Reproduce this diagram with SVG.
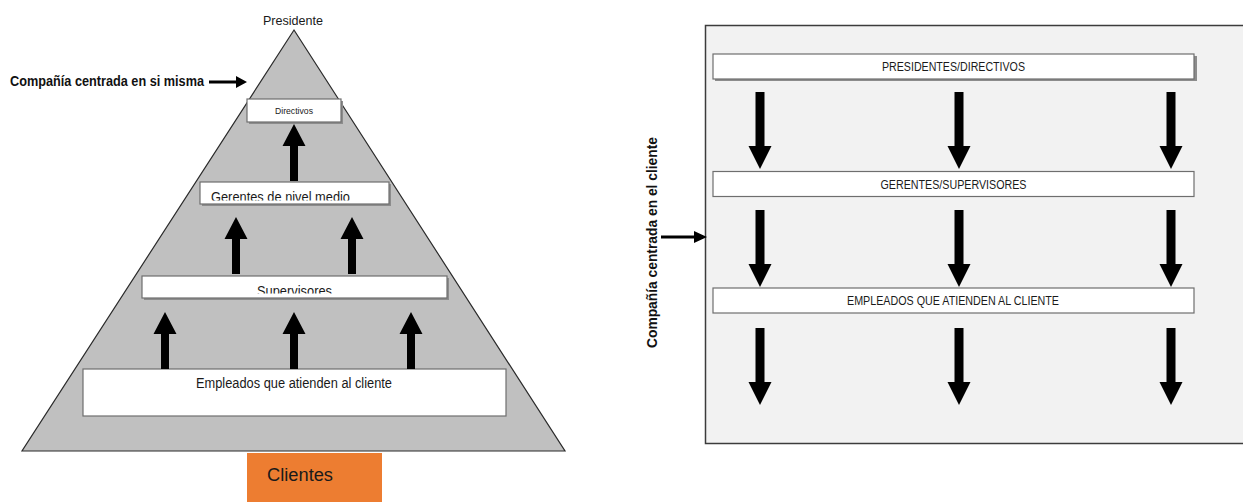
<svg xmlns="http://www.w3.org/2000/svg" xmlns:xlink="http://www.w3.org/1999/xlink" width="1243" height="502" viewBox="0 0 1243 502">
  <style>
    text { font-family: "Liberation Sans", Arial, sans-serif; fill: #1a1a1a; }
    .box { fill: #ffffff; stroke: #6e6e6e; stroke-width: 1.2; }
    .shadow { fill: #8c8c8c; }
    .bold { font-weight: bold; fill: #111; }
    .blk { fill: #000; }
  </style>
  <defs>
    <!-- block arrow pointing up, tip at origin -->
    <path id="arrowUp" d="M0,0 L11.5,22 L4,22 L4,57 L-4,57 L-4,22 L-11.5,22 Z"/>
    <!-- block arrow pointing down, tail at origin -->
    <path id="arrowDown" d="M-4.5,0 L4.5,0 L4.5,54 L11.5,54 L0,77 L-11.5,54 L-4.5,54 Z"/>
    <clipPath id="clipGerentes"><rect x="200" y="182" width="188" height="18.5"/></clipPath>
    <clipPath id="clipSupervisores"><rect x="142" y="276" width="305" height="17.5"/></clipPath>
  </defs>

  <!-- Left: self-centred company pyramid -->
  <g id="pyramid">
    <polygon points="294,30 565,451 22,451" fill="#c0c0c0" stroke="#2a2a2a" stroke-width="1.2"/>
    <text x="293" y="25" font-size="13" text-anchor="middle" textLength="60" lengthAdjust="spacingAndGlyphs">Presidente</text>
  </g>

  <g id="label-self">
    <text class="bold" x="10" y="86" font-size="14" textLength="194" lengthAdjust="spacingAndGlyphs">Compañía centrada en si misma</text>
  </g>

  <g id="node-directivos">
    <rect class="shadow" x="249" y="101" width="94" height="23"/>
    <rect class="box" x="247" y="99" width="94" height="23"/>
    <text x="294" y="114" font-size="9" text-anchor="middle" textLength="38" lengthAdjust="spacingAndGlyphs">Directivos</text>
  </g>

  <g id="node-gerentes">
    <rect class="shadow" x="202" y="184" width="189" height="22"/>
    <rect class="box" x="200" y="182" width="189" height="22"/>
    <text x="211" y="201.5" font-size="15" clip-path="url(#clipGerentes)" textLength="139" lengthAdjust="spacingAndGlyphs">Gerentes de nivel medio</text>
  </g>

  <g id="node-supervisores">
    <rect class="shadow" x="144" y="278" width="305" height="22"/>
    <rect class="box" x="142" y="276" width="305" height="22"/>
    <text x="257" y="295.5" font-size="15" clip-path="url(#clipSupervisores)" textLength="75" lengthAdjust="spacingAndGlyphs">Supervisores</text>
  </g>

  <g id="node-empleados">
    <rect class="box" x="83" y="369" width="423" height="47"/>
    <text x="196" y="388" font-size="14" textLength="196" lengthAdjust="spacingAndGlyphs">Empleados que atienden al cliente</text>
  </g>

  <g id="node-clientes">
    <rect x="247" y="453" width="135" height="49" fill="#ed7d31"/>
    <text x="267" y="481" font-size="18" fill="#111" textLength="66" lengthAdjust="spacingAndGlyphs">Clientes</text>
  </g>

  <!-- Right: customer-centred company -->
  <g id="panel">
    <rect x="705.5" y="25.5" width="560" height="418" fill="#f2f2f2" stroke="#3c3c3c" stroke-width="1.5"/>
  </g>

  <g id="label-customer">
    <text class="bold" transform="translate(657,242.5) rotate(-90)" x="0" y="0" font-size="14" text-anchor="middle" textLength="211" lengthAdjust="spacingAndGlyphs">Compañía centrada en el cliente</text>
  </g>

  <g id="node-presidentes">
    <rect class="shadow" x="715" y="56" width="482" height="25"/>
    <rect class="box" x="713" y="54" width="481" height="25"/>
    <text x="953.5" y="71" font-size="12" text-anchor="middle" textLength="143" lengthAdjust="spacingAndGlyphs">PRESIDENTES/DIRECTIVOS</text>
  </g>

  <g id="node-gerentes-supervisores">
    <rect class="box" x="713" y="171.5" width="481" height="25"/>
    <text x="953.5" y="188.5" font-size="12" text-anchor="middle" textLength="146" lengthAdjust="spacingAndGlyphs">GERENTES/SUPERVISORES</text>
  </g>

  <g id="node-empleados-cliente">
    <rect class="box" x="713" y="288" width="481" height="25"/>
    <text x="953" y="305" font-size="12" text-anchor="middle" textLength="212" lengthAdjust="spacingAndGlyphs">EMPLEADOS QUE ATIENDEN AL CLIENTE</text>
  </g>

  <g id="connectors" class="blk">
    <!-- label pointers -->
    <path d="M209,80.5 L236,80.5 L236,76 L247,82 L236,88 L236,83.5 L209,83.5 Z"/>
    <path d="M661,235.5 L694,235.5 L694,231 L707,237 L694,243 L694,238.5 L661,238.5 Z"/>

    <!-- pyramid: upward flow -->
    <use xlink:href="#arrowUp" x="294" y="124"/>
    <use xlink:href="#arrowUp" x="236" y="217"/>
    <use xlink:href="#arrowUp" x="352" y="217"/>
    <use xlink:href="#arrowUp" x="165" y="312"/>
    <use xlink:href="#arrowUp" x="294" y="312"/>
    <use xlink:href="#arrowUp" x="411" y="312"/>

    <!-- panel: downward flow -->
    <use xlink:href="#arrowDown" x="760" y="92"/>
    <use xlink:href="#arrowDown" x="959" y="92"/>
    <use xlink:href="#arrowDown" x="1171" y="92"/>
    <use xlink:href="#arrowDown" x="760" y="210"/>
    <use xlink:href="#arrowDown" x="959" y="210"/>
    <use xlink:href="#arrowDown" x="1171" y="210"/>
    <use xlink:href="#arrowDown" x="760" y="328"/>
    <use xlink:href="#arrowDown" x="959" y="328"/>
    <use xlink:href="#arrowDown" x="1171" y="328"/>
  </g>
</svg>
